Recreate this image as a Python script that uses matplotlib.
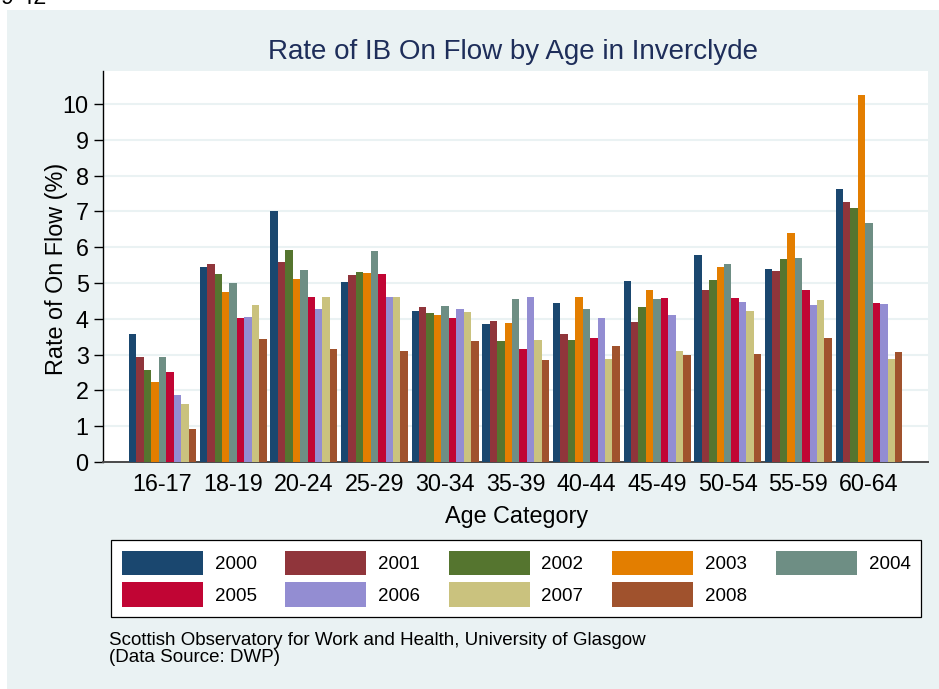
import numpy as np
import matplotlib
matplotlib.use("Agg")
import matplotlib.pyplot as plt
from matplotlib.patches import Rectangle, Patch

plt.rcParams['font.family'] = ['Liberation Sans', 'DejaVu Sans']

categories = ["16-17", "18-19", "20-24", "25-29", "30-34", "35-39",
              "40-44", "45-49", "50-54", "55-59", "60-64"]
years = ["2000", "2001", "2002", "2003", "2004", "2005", "2006", "2007", "2008"]

v2000 = [3.57, 5.46, 7.02, 5.03, 4.21, 3.86, 4.45, 5.05, 5.79, 5.40, 7.62]
v2001 = [2.92, 5.52, 5.58, 5.22, 4.34, 3.95, 3.57, 3.90, 4.80, 5.33, 7.27]
v2002 = [2.58, 5.24, 5.91, 5.30, 4.17, 3.38, 3.42, 4.32, 5.08, 5.68, 7.09]
v2003 = [2.23, 4.75, 5.11, 5.29, 4.12, 3.87, 4.62, 4.80, 5.44, 6.40, 10.25]
v2004 = [2.94, 5.00, 5.37, 5.88, 4.37, 4.54, 4.28, 4.54, 5.54, 5.71, 6.67]
v2005 = [2.52, 4.02, 4.60, 5.26, 4.01, 3.16, 3.45, 4.59, 4.57, 4.81, 4.44]
v2006 = [1.87, 4.04, 4.28, 4.62, 4.26, 4.62, 4.01, 4.12, 4.46, 4.39, 4.40]
v2007 = [1.63, 4.38, 4.60, 4.62, 4.19, 3.40, 2.88, 3.10, 4.23, 4.52, 2.88]
v2008 = [0.92, 3.44, 3.15, 3.09, 3.39, 2.84, 3.24, 2.99, 3.01, 3.46, 3.07]
series = [v2000, v2001, v2002, v2003, v2004, v2005, v2006, v2007, v2008]

colors = ["#1a476f", "#90353b", "#55752f", "#e37e00", "#6e8e84",
          "#c10534", "#938dd2", "#cac27e", "#a0522d"]
yticks = list(range(0, 11))

W, H = 939, 689
bg = "#EAF2F3"
fig = plt.figure(figsize=(W / 100, H / 100), dpi=100)
fig.patch.set_facecolor("white")
fig.patches.append(Rectangle((7 / W, 0), 1 - 7 / W, 1 - 10 / H,
                             transform=fig.transFigure, facecolor=bg,
                             edgecolor="none", zorder=-10))

def fx(px):
    return px / W

def fy(py):
    return 1 - py / H

ax = fig.add_axes([fx(103), fy(462), (928 - 103) / W, (462 - 70.7) / H])
ax.set_facecolor("white")

x = np.arange(len(categories))
gw = 0.948
bw = gw / len(years)
for i, (yr, vals) in enumerate(zip(years, series)):
    ax.bar(x + (i - 4) * bw, vals, width=bw, color=colors[i],
           linewidth=0, label=yr, zorder=3)

ax.set_xlim(-0.842, 10.835)
ax.set_ylim(0, 10.93)
ax.set_yticks(yticks)
ax.set_yticklabels([str(t) for t in yticks], fontsize=16.8)
ax.set_xticks(x)
ax.set_xticklabels(categories, fontsize=16.8)
ax.tick_params(axis='x', length=0, pad=8)
ax.tick_params(axis='y', length=6.3, width=1.0, color="black", pad=4, direction='out')
ax.grid(axis='y', color=bg, linewidth=1.5, zorder=0)
ax.set_axisbelow(True)
for s in ["top", "right"]:
    ax.spines[s].set_visible(False)
ax.spines["left"].set_color("black")
ax.spines["left"].set_linewidth(1.0)
ax.spines["bottom"].set_color("#4a4a4a")
ax.spines["bottom"].set_linewidth(1.4)

fig.text(fx(512.5), fy(59), "Rate of IB On Flow by Age in Inverclyde",
         ha="center", va="baseline", fontsize=20, color="#1E2E5A")
fig.text(fx(56), fy(269), "Rate of On Flow (%)", rotation=90,
         ha="center", va="center", fontsize=16.8, color="black")
fig.text(fx(517), fy(523), "Age Category", ha="center", va="baseline",
         fontsize=16.8, color="black")

order = [0, 5, 1, 6, 2, 7, 3, 8, 4]
handles = [Patch(facecolor=colors[i], edgecolor="none", label=years[i]) for i in order]
lfs = 13.5
lpx = lfs * 100 / 72
leg = fig.legend(handles=handles, ncol=5, loc="upper left",
                 bbox_to_anchor=(fx(111), fy(540)), frameon=True,
                 fancybox=False, edgecolor="black", facecolor="white",
                 fontsize=lfs, handlelength=81 / lpx, handleheight=1.63,
                 handletextpad=12 / lpx, columnspacing=28.5 / lpx,
                 borderpad=0.56, borderaxespad=0, labelspacing=0.4,
                 framealpha=1)
leg.get_frame().set_linewidth(0.9)

fig.text(fx(109), fy(645), "Scottish Observatory for Work and Health, University of Glasgow",
         ha="left", va="baseline", fontsize=13.5, color="black")
fig.text(fx(109), fy(662), "(Data Source: DWP)",
         ha="left", va="baseline", fontsize=13.5, color="black")

fig.text(fx(1), fy(4), "9 42", ha="left", va="baseline", fontsize=16.8, color="black")

fig.savefig("out.png", dpi=100)
